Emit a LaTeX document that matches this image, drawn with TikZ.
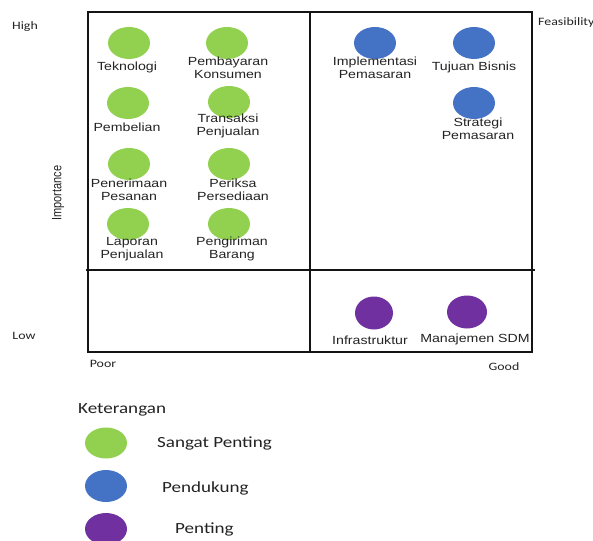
\documentclass[tikz,border=0pt]{standalone}
\usepackage{graphicx}
\usepackage{fontspec}
\usetikzlibrary{shapes.geometric}
\newfontfamily\labfnt[FakeStretch=1.2]{Liberation Sans}
\newfontfamily\labplain{Liberation Sans}
\newfontfamily\calfnt[FakeStretch=1.23]{Carlito}
\definecolor{cgreen}{RGB}{146,208,80}
\definecolor{cblue}{RGB}{68,114,196}
\definecolor{cpurple}{RGB}{112,48,160}
\definecolor{cline}{RGB}{20,20,20}
\definecolor{ctext}{RGB}{35,35,35}
\tikzset{
  dot/.style={ellipse, draw=none, minimum width=42pt, minimum height=32pt, inner sep=0pt},
  gdot/.style={dot, fill=cgreen},
  bdot/.style={dot, fill=cblue},
  pdot/.style={dot, fill=cpurple, minimum width=38pt, minimum height=33pt},
  lab/.style={align=center, inner sep=0pt, text=ctext, font=\labfnt\fontsize{11.8}{13.5}\selectfont},
  axl/.style={inner sep=0pt, text=ctext, font=\calfnt\fontsize{11.3}{13}\selectfont},
  leg/.style={inner sep=0pt, text=ctext, font=\calfnt\fontsize{15.5}{18}\selectfont},
  frame/.style={draw=cline, line width=1.6pt}
}
\begin{document}
\begin{tikzpicture}[x=1pt,y=-1pt]
\useasboundingbox (0,0) rectangle (593,540);
% frame
\coordinate (tl) at (88,12);
\coordinate (br) at (532,352);
\coordinate (vt) at (310,12);
\coordinate (vb) at (310,352);
\coordinate (hl) at (86,270);
\coordinate (hr) at (535,270);
\draw[frame] (tl) rectangle (br);
\draw[frame] (vt) -- (vb);
\draw[frame, line width=1.8pt] (hl) -- (hr);
% axis labels
\node[axl] (high) at (25,27) {High};
\node[axl] (low) at (24,336) {Low};
\node[axl] (poor) at (103,364) {Poor};
\node[axl] (good) at (504,367) {Good};
\node[axl, anchor=west] (feas) at (538,22) {Feasibility};
\node[inner sep=0pt, rotate=90, text=ctext, font=\labplain\fontsize{11}{13}\selectfont] (imp) at (58,193) {\scalebox{1}[1.23]{Importance}};
% green
\node[gdot] (g1) at (129,43) {};
\node[lab] (g1t) at (127,67) {Teknologi};
\node[gdot] (g2) at (227,43) {};
\node[lab] (g2t) at (228,68) {Pembayaran\\Konsumen};
\node[gdot] (g3) at (128,103) {};
\node[lab] (g3t) at (127,127) {Pembelian};
\node[gdot] (g4) at (229,102) {};
\node[lab] (g4t) at (228,126) {Transaksi\\Penjualan};
\node[gdot] (g5) at (129,164) {};
\node[lab] (g5t) at (129,190) {Penerimaan\\Pesanan};
\node[gdot] (g6) at (229,164) {};
\node[lab] (g6t) at (233,190) {Periksa\\Persediaan};
\node[gdot] (g7) at (128,224) {};
\node[lab] (g7t) at (132,249) {Laporan\\Penjualan};
\node[gdot] (g8) at (229,224) {};
\node[lab] (g8t) at (232,249) {Pengiriman\\Barang};
% blue
\node[bdot] (b1) at (375,43) {};
\node[lab] (b1t) at (375,68) {Implementasi\\Pemasaran};
\node[bdot] (b2) at (474,43) {};
\node[lab] (b2t) at (474,67) {Tujuan Bisnis};
\node[bdot] (b3) at (474,103) {};
\node[lab] (b3t) at (478,129) {Strategi\\Pemasaran};
% purple
\node[pdot] (p1) at (374,313) {};
\node[lab] (p1t) at (370,340) {Infrastruktur};
\node[pdot, minimum width=40pt] (p2) at (467,312) {};
\node[lab] (p2t) at (475,339) {Manajemen SDM};
% legend
\node[leg, anchor=west] (ket) at (78,410) {Keterangan};
\node[gdot, minimum height=31pt] (lg) at (106,443) {};
\node[leg, anchor=west] (lgt) at (157,443) {Sangat Penting};
\node[bdot, minimum height=32pt] (lb) at (106,486) {};
\node[leg, anchor=west] (lbt) at (162,488) {Pendukung};
\node[dot, fill=cpurple, minimum height=32pt] (lp) at (106,529) {};
\node[leg, anchor=west] (lpt) at (175,529) {Penting};
\end{tikzpicture}
\end{document}
